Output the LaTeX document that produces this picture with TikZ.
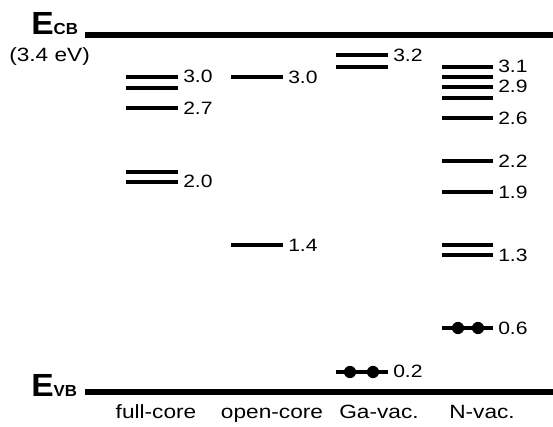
\documentclass[tikz,border=0pt]{standalone}
\usepackage{fontspec}
\setmainfont{Liberation Sans}
\newfontfamily\widesans[FakeStretch=1.18]{Liberation Sans}
\newfontfamily\widebold[FakeStretch=1.05]{Liberation Sans Bold}
\begin{document}
\begin{tikzpicture}[x=0.75pt,y=-0.75pt,
  band/.style={line width=3.8pt},
  level/.style={line width=2.5pt},
  val/.style={anchor=west,inner sep=0pt,font=\widesans\fontsize{13.4}{14}\selectfont},
  cat/.style={anchor=base,inner sep=0pt,font=\widesans\fontsize{14.4}{16}\selectfont},
  edge/.style={anchor=east,inner sep=0pt,font=\widebold\fontsize{24}{26}\selectfont},
  electron/.style={fill=black}]
\useasboundingbox (0,0) rectangle (553,426);

% band edges
\coordinate (cbL) at (85,35);  \coordinate (cbR) at (553,35);
\coordinate (vbL) at (85,392); \coordinate (vbR) at (553,392);
\draw[band] (cbL) -- (cbR);
\draw[band] (vbL) -- (vbR);
\node[edge,anchor=base west] (ecb) at (31,34) {E\raisebox{-0.5pt}{\fontsize{12}{12}\selectfont CB}};
\node[edge,anchor=base west] (evb) at (31,396) {E\raisebox{-0.5pt}{\fontsize{12}{12}\selectfont VB}};
\node[anchor=west,inner sep=0pt,font=\widesans\fontsize{14.4}{15}\selectfont] (gap) at (9,57) {(3.4 eV)};

% full-core
\foreach \y in {77,88,108,172,182} \draw[level] (126,\y) -- (178,\y);
\node[val] (fc30) at (183,76) {3.0};
\node[val] (fc27) at (183,108) {2.7};
\node[val] (fc20) at (183,181) {2.0};

% open-core
\foreach \y in {77,245} \draw[level] (231,\y) -- (283,\y);
\node[val] (oc30) at (288,77) {3.0};
\node[val] (oc14) at (288,245) {1.4};

% Ga vacancy
\foreach \y in {55,67,372} \draw[level] (336,\y) -- (388,\y);
\fill[electron] (350,372) circle[radius=4.6pt];
\fill[electron] (373,372) circle[radius=4.6pt];
\node[val] (ga32) at (393,55) {3.2};
\node[val] (ga02) at (393,371) {0.2};

% N vacancy
\foreach \y in {67,77,87,98,118,161,192,245,255,328} \draw[level] (442,\y) -- (493,\y);
\fill[electron] (458,328) circle[radius=4.6pt];
\fill[electron] (478,328) circle[radius=4.6pt];
\node[val] (nv31) at (498,66) {3.1};
\node[val] (nv29) at (498,86) {2.9};
\node[val] (nv26) at (498,118) {2.6};
\node[val] (nv22) at (498,161) {2.2};
\node[val] (nv19) at (498,192) {1.9};
\node[val] (nv13) at (498,255) {1.3};
\node[val] (nv06) at (498,328) {0.6};

% defect labels
\node[cat] (lfc) at (156,418) {full-core};
\node[cat] (loc) at (272,418) {open-core};
\node[cat] (lga) at (379,418) {Ga-vac.};
\node[cat] (lnv) at (482,418) {N-vac.};
\end{tikzpicture}
\end{document}
